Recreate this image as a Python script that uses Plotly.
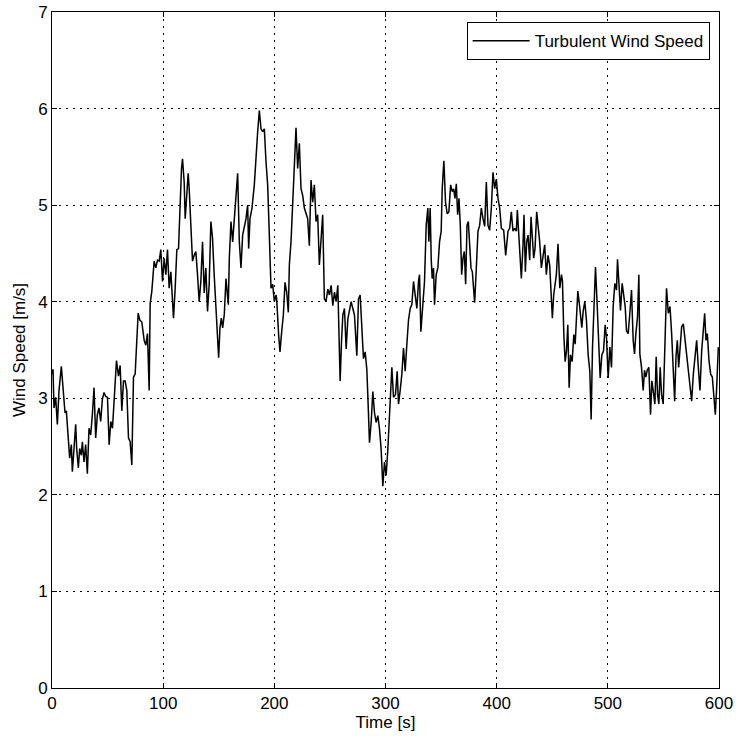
import plotly.graph_objects as go

# Time [s] and wind speed [m/s]
time = [
    0, 0.9, 1.8, 3.3, 4.8, 6.3, 8.4, 9.9, 11.7, 12.9,
    14.7, 15.9, 17.4, 18.3, 19.8, 21.3, 22.2, 23.7, 24.9, 26.4,
    27.3, 28.8, 30.3, 31.8, 33.3, 34.8, 36.3, 37.8, 39.3, 40.8,
    42.3, 43.8, 45.3, 46.8, 48.3, 49.9, 51.4, 52.9, 54.4, 55.9,
    58.0, 59.8, 61.3, 62.8, 64.3, 65.8, 67.3, 68.8, 70.3, 71.8,
    73.3, 74.8, 76.3, 77.5, 79.0, 80.8, 82.9, 84.4, 85.9, 87.4,
    88.3,
    89.8, 91.9, 93.4, 94.9, 96.4, 97.9, 99.4, 100.9, 102.4, 103.9,
    105.4, 106.9, 108.4, 109.3, 110.8, 112.3, 113.8, 115.0, 116.5, 117.4,
    118.9, 119.8, 121.0, 122.5, 123.4, 124.9, 126.4, 127.9, 129.4, 130.9,
    132.4, 133.9, 135.4, 136.9, 138.4, 139.9, 141.4, 142.9, 144.4, 145.9,
    147.4, 148.9, 149.9, 151.1, 152.3, 153.5, 155.0, 156.5, 157.7, 158.6,
    159.5, 161.0, 162.5, 164.0, 165.5, 167.0, 168.5, 170.0, 171.5, 173.0,
    174.5, 176.0, 176.9, 178.1, 179.9, 182.0, 183.5, 185.0, 186.5, 188.0,
    189.5, 191.0, 192.5, 194.0, 195.5, 197.0, 198.5, 200.0, 201.5,
    202.1, 203.9, 205.1, 206.6, 208.1, 209.6, 211.1, 212.6, 213.5, 215.0,
    216.5, 218.0, 219.5, 221.0, 222.5, 224.0, 225.5, 227.0, 228.5, 230.0,
    231.5, 233.0, 234.5, 236.0, 237.5, 239.0, 240.5, 242.0, 243.5, 245.0,
    246.5, 248.1, 249.6, 251.1, 252.6, 254.1, 255.6, 257.1, 258.0, 259.2,
    260.4, 261.6, 263.1, 264.6, 266.1, 267.6, 269.1, 270.6, 272.1, 274.2,
    275.7, 277.2, 278.7, 280.2, 281.7, 283.2, 284.1, 285.6, 287.1, 288.6,
    290.1, 291.6, 293.1, 294.6, 296.1, 297.6, 299.1, 300.6, 302.1,
    305.7, 307.2, 309.0, 310.5, 311.7, 313.2, 314.7, 316.2, 317.7, 319.2,
    320.7, 322.2, 323.7, 325.2, 326.7, 328.2, 329.7, 330.6, 331.8, 333.6,
    335.1, 336.6, 338.1, 339.0, 340.2, 341.1, 342.0, 343.2, 344.1, 345.6,
    347.1, 348.6, 350.1, 351.0, 352.5, 354.0, 355.5, 357.0, 358.6, 360.1,
    361.3, 362.5, 363.7, 364.9, 366.1, 367.3, 368.5, 369.7, 370.9, 372.1,
    373.3, 374.5, 375.7, 376.9, 378.1, 379.3, 380.2, 381.7, 383.2, 384.7,
    386.2, 387.7, 389.2, 390.7, 392.2, 393.7, 395.2, 396.7, 398.2, 399.7,
    401.2, 402.7, 404.2, 406.3, 408.1,
    410.2, 411.7, 413.2, 414.7, 416.2, 417.7, 418.6, 419.8, 421.3, 422.2,
    423.7, 424.6, 425.8, 427.0, 428.2, 429.7, 430.9, 432.1, 433.3, 434.5,
    436.0, 437.5, 438.7, 440.2, 441.7, 443.2, 444.7, 446.2, 447.7, 448.9,
    450.1, 451.3, 452.8, 453.7, 455.2, 456.8, 458.3, 459.2, 460.4, 461.6,
    462.8, 464.0, 465.2, 466.4, 467.9, 469.4, 470.6, 471.8, 473.0, 474.2,
    475.4, 476.6, 477.8, 479.3, 480.8, 482.3, 483.8, 485.0, 486.2, 487.4,
    488.9, 490.4, 491.9, 493.1, 494.6, 496.1, 497.6, 498.8, 500.3,
    501.8, 503.3, 504.8, 506.3, 507.8, 508.7, 510.2, 511.4, 512.9, 514.4,
    515.6, 516.8, 518.3, 519.8, 521.3, 522.8, 524.0, 525.2, 526.7, 527.9,
    528.8, 530.3, 531.8, 533.0, 534.2, 535.4, 536.9, 538.4, 539.6, 540.8,
    542.3, 543.5, 544.7, 545.9, 547.1, 548.3, 549.8, 551.3, 552.8, 554.4,
    555.9, 557.4, 558.9, 560.1, 561.3, 562.5, 563.7, 564.9, 566.4, 567.9,
    569.4, 570.9, 572.7, 573.9, 575.4, 576.9, 578.4, 579.9, 581.4, 582.9,
    584.4, 585.9, 587.1, 588.3, 589.5, 591.0, 592.5, 594.0, 595.5, 596.7,
    597.9, 599.4,
]

wind_speed = [
    3.25, 3.30, 2.90, 3.01, 2.73, 3.08, 3.33, 3.08, 2.85, 2.87,
    2.55, 2.38, 2.52, 2.24, 2.48, 2.73, 2.48, 2.28, 2.48, 2.41,
    2.55, 2.34, 2.52, 2.22, 2.69, 2.62, 2.83, 3.11, 2.59, 2.83,
    2.90, 2.76, 2.99, 3.06, 3.02, 3.01, 2.52, 2.76, 2.69, 2.94,
    3.39, 3.23, 3.34, 2.87, 3.18, 3.18, 3.08, 2.59, 2.55, 2.31,
    3.22, 3.25, 3.60, 3.88, 3.81, 3.79, 3.60, 3.55, 3.67, 3.08,
    3.98,
    4.11, 4.42, 4.35, 4.43, 4.42, 4.54, 4.21, 4.45, 4.28, 4.54,
    4.14, 4.31, 4.00, 3.83, 4.14, 4.54, 4.55, 5.03, 5.38, 5.48,
    5.24, 4.86, 5.03, 5.33, 5.17, 4.86, 4.42, 4.48, 4.52, 4.28,
    4.00, 4.21, 4.62, 4.09, 4.35, 3.90, 4.18, 4.83, 4.66, 4.28,
    4.00, 3.73, 3.42, 3.73, 3.83, 3.73, 3.87, 4.24, 4.04, 3.97,
    4.45, 4.83, 4.62, 4.86, 5.10, 5.33, 4.62, 4.35, 4.69, 4.76,
    4.86, 5.00, 4.55, 4.86, 4.97, 5.21, 5.55, 5.76, 5.98, 5.79,
    5.76, 5.79, 5.45, 5.21, 4.69, 4.14, 4.18, 4.00, 4.07,
    4.03, 3.65, 3.48, 3.69, 3.86, 4.20, 4.10, 3.89, 4.38, 4.62,
    5.00, 5.38, 5.80, 5.38, 5.64, 5.17, 5.10, 4.97, 4.90, 4.86,
    4.58, 5.26, 5.03, 5.21, 4.83, 4.90, 4.38, 4.69, 4.90, 4.03,
    4.00, 4.13, 4.07, 4.17, 3.96, 4.10, 4.00, 4.17, 3.82, 3.18,
    3.58, 3.86, 3.93, 3.51, 3.82, 3.93, 4.00, 3.93, 3.86, 3.44,
    4.03, 4.07, 3.79, 3.41, 3.48, 3.30, 3.03, 2.54, 2.75, 3.07,
    2.85, 2.75, 2.82, 2.68, 2.47, 2.09, 2.34, 2.20, 2.47,
    3.32, 3.01, 3.04, 3.28, 2.94, 3.08, 3.25, 3.52, 3.28, 3.56,
    3.81, 3.93, 3.97, 4.21, 4.07, 3.93, 4.21, 4.28, 3.69, 3.93,
    4.21, 4.79, 4.97, 4.62, 4.97, 4.45, 4.24, 4.35, 3.97, 4.28,
    4.35, 4.62, 4.73, 5.17, 5.46, 5.03, 4.91, 4.93, 5.21, 5.14,
    5.17, 5.07, 5.22, 4.90, 5.07, 4.79, 4.28, 4.45, 4.52, 4.18,
    4.79, 4.83, 4.62, 4.35, 4.31, 4.14, 3.99, 4.35, 4.73, 4.79,
    4.97, 4.86, 4.78, 5.24, 4.79, 4.74, 4.97, 5.34, 5.17, 5.27,
    5.07, 4.97, 4.76, 4.74, 4.48,
    4.73, 4.76, 4.93, 4.73, 4.76, 4.73, 4.95, 4.66, 4.42, 4.24,
    4.59, 4.90, 4.31, 4.62, 4.69, 4.43, 4.88, 4.59, 4.45, 4.55,
    4.93, 4.76, 4.62, 4.35, 4.45, 4.59, 4.28, 4.48, 4.38, 4.00,
    3.83, 4.07, 4.21, 4.28, 4.60, 4.14, 4.28, 4.21, 3.66, 3.38,
    3.49, 3.76, 3.11, 3.45, 3.38, 3.66, 3.56, 3.83, 4.11, 4.00,
    3.87, 3.73, 3.90, 4.00, 3.80, 3.45, 3.28, 2.78, 3.52, 3.87,
    4.36, 3.97, 3.52, 3.21, 3.45, 3.49, 3.76, 3.63, 3.21,
    3.53, 3.32, 3.95, 4.19, 4.12, 4.44, 4.12, 3.91, 4.19, 4.05,
    3.95, 3.70, 3.67, 3.88, 4.12, 3.60, 3.46, 3.67, 3.84, 4.28,
    3.46, 3.32, 3.08, 3.29, 3.22, 3.29, 3.32, 2.83, 3.18, 3.08,
    2.94, 3.43, 3.04, 2.94, 3.32, 3.04, 2.94, 3.53, 4.14, 3.88,
    3.95, 3.67, 3.25, 2.97, 3.43, 3.60, 3.32, 3.49, 3.74, 3.77,
    3.60, 3.49, 3.25, 3.11, 2.97, 3.25, 3.43, 3.60, 3.32, 3.08,
    3.49, 3.67, 3.88, 3.60, 3.67, 3.39, 3.25, 3.22, 2.97, 2.83,
    3.11, 3.53,
]

assert len(time) == len(wind_speed)

x_ticks = [0, 100, 200, 300, 400, 500, 600]
y_ticks = [0, 1, 2, 3, 4, 5, 6, 7]

fig = go.Figure()
fig.add_trace(go.Scatter(
    x=time, y=wind_speed, mode="lines",
    name="Turbulent Wind Speed",
    line=dict(color="black", width=1.5),
))

axis_common = dict(
    showline=True, linecolor="black", linewidth=1, mirror="ticks",
    ticks="inside", ticklen=5, tickcolor="black", tickwidth=1,
    showgrid=True, gridcolor="black", gridwidth=1, griddash="2px,5px",
    zeroline=False, automargin=False,
    tickfont=dict(size=17, color="black"),
)

fig.update_layout(
    width=739, height=740,
    margin=dict(l=52, r=20, t=12, b=52),
    plot_bgcolor="white", paper_bgcolor="white",
    font=dict(family="Liberation Sans, Arial, sans-serif", size=17, color="black"),
    showlegend=True,
    legend=dict(
        x=0.986, y=0.985, xanchor="right", yanchor="top",
        bordercolor="black", borderwidth=1, bgcolor="white",
        font=dict(size=17, color="black"), itemwidth=57,
    ),
    xaxis=dict(range=[0, 600], tickvals=x_ticks,
               title=dict(text="Time [s]", standoff=2, font=dict(size=17)),
               **axis_common),
    yaxis=dict(range=[0, 7], tickvals=y_ticks,
               title=dict(text="Wind Speed [m/s]", standoff=8, font=dict(size=17)),
               **axis_common),
)

fig.write_html("out.html")
